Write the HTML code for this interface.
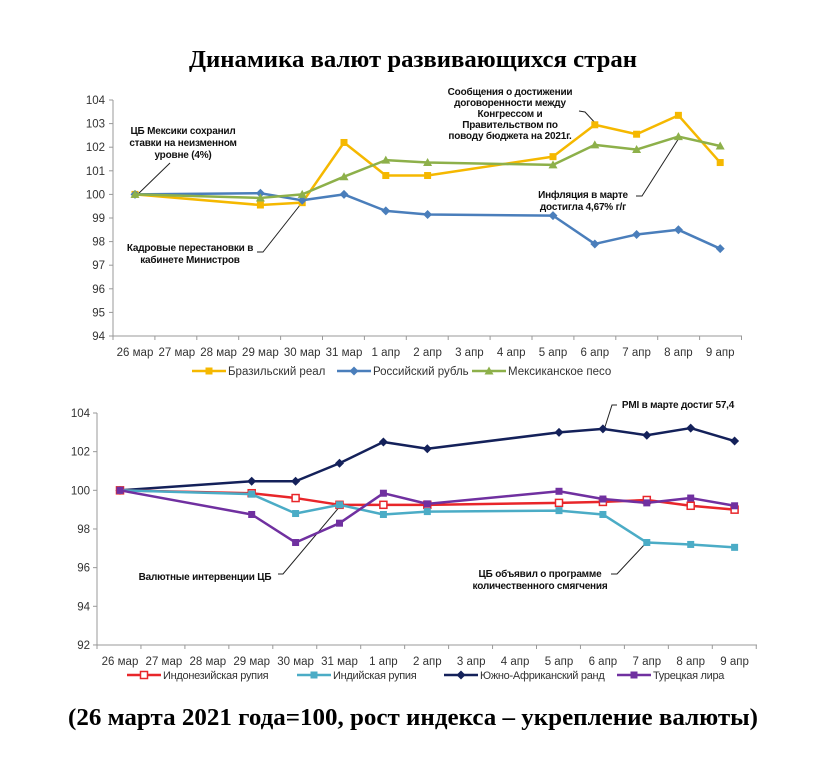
<!DOCTYPE html>
<html><head><meta charset="utf-8"><style>
body{margin:0;background:#fff;}
svg{display:block;font-family:"Liberation Sans",sans-serif;}
.t{font-family:"Liberation Serif",serif;font-weight:bold;font-size:24px;}
.tk{font-size:11.5px;fill:#333;}
.an{font-size:10px;font-weight:bold;fill:#111;letter-spacing:-0.2px;}
.lg{font-size:11.5px;fill:#333;}
.lg2{font-size:11px;fill:#333;letter-spacing:-0.3px;}
</style></head><body>
<svg id="s" width="828" height="757" viewBox="0 0 828 757">
<text class="t" x="413" y="67" text-anchor="middle" textLength="448" lengthAdjust="spacingAndGlyphs">Динамика валют развивающихся стран</text>
<text class="t" x="413" y="725" text-anchor="middle" textLength="690" lengthAdjust="spacingAndGlyphs">(26 марта 2021 года=100, рост индекса – укрепление валюты)</text>
<g class="tk" text-anchor="end">
<text x="105" y="104">104</text><text x="105" y="127.6">103</text><text x="105" y="151.2">102</text><text x="105" y="174.8">101</text><text x="105" y="198.4">100</text><text x="105" y="222">99</text><text x="105" y="245.6">98</text><text x="105" y="269.2">97</text><text x="105" y="292.8">96</text><text x="105" y="316.4">95</text><text x="105" y="340">94</text>
<text x="90" y="417">104</text><text x="90" y="455.7">102</text><text x="90" y="494.3">100</text><text x="90" y="533">98</text><text x="90" y="571.6">96</text><text x="90" y="610.3">94</text><text x="90" y="649">92</text>
</g>
<g class="tk" text-anchor="middle">
<text x="135" y="356">26 мар</text><text x="176.8" y="356">27 мар</text><text x="218.6" y="356">28 мар</text><text x="260.4" y="356">29 мар</text><text x="302.2" y="356">30 мар</text><text x="344" y="356">31 мар</text><text x="385.8" y="356">1 апр</text><text x="427.6" y="356">2 апр</text><text x="469.4" y="356">3 апр</text><text x="511.2" y="356">4 апр</text><text x="553" y="356">5 апр</text><text x="594.8" y="356">6 апр</text><text x="636.6" y="356">7 апр</text><text x="678.4" y="356">8 апр</text><text x="720.2" y="356">9 апр</text>
<text x="120" y="665">26 мар</text><text x="163.9" y="665">27 мар</text><text x="207.8" y="665">28 мар</text><text x="251.7" y="665">29 мар</text><text x="295.6" y="665">30 мар</text><text x="339.5" y="665">31 мар</text><text x="383.4" y="665">1 апр</text><text x="427.3" y="665">2 апр</text><text x="471.2" y="665">3 апр</text><text x="515.1" y="665">4 апр</text><text x="559" y="665">5 апр</text><text x="602.9" y="665">6 апр</text><text x="646.8" y="665">7 апр</text><text x="690.7" y="665">8 апр</text><text x="734.6" y="665">9 апр</text>
</g>
<g class="lg">
<text x="228" y="375">Бразильский реал</text>
<text x="373" y="375">Российский рубль</text>
<text x="508" y="375">Мексиканское песо</text>
</g>
<g class="lg2">
<text x="163" y="679">Индонезийская рупия</text>
<text x="333" y="679">Индийская рупия</text>
<text x="480" y="679">Южно-Африканский ранд</text>
<text x="653" y="679">Турецкая лира</text>
</g>
<g class="an" text-anchor="middle">
<text x="183" y="134">ЦБ Мексики сохранил</text>
<text x="183" y="146">ставки на неизменном</text>
<text x="183" y="158">уровне (4%)</text>
<text x="190" y="251">Кадровые перестановки в</text>
<text x="190" y="263">кабинете Министров</text>
<text x="510" y="95">Сообщения о достижении</text>
<text x="510" y="106">договоренности между</text>
<text x="510" y="117">Конгрессом и</text>
<text x="510" y="128">Правительством по</text>
<text x="510" y="139">поводу бюджета на 2021г.</text>
<text x="583" y="198">Инфляция в марте</text>
<text x="583" y="210">достигла 4,67% г/г</text>
<text x="678" y="408">PMI в марте достиг 57,4</text>
<text x="205" y="580">Валютные интервенции ЦБ</text>
<text x="540" y="577">ЦБ объявил о программе</text>
<text x="540" y="589">количественного смягчения</text>
</g>
<g stroke="#222" stroke-width="1" fill="none">
<polyline points="170,163 136,196"/>
<polyline points="257,252 263,252 304,200"/>
<polyline points="579,111 585,112 597,125"/>
<polyline points="636,196 642,196 679,138"/>
<polyline points="617,405 612,405 604,430"/>
<polyline points="278,574 283,574 341,505"/>
<polyline points="611,574 617,574 645,544"/>
</g>
<g id="g"></g>
</svg>
<script>
var NS="http://www.w3.org/2000/svg",G=document.getElementById("g");
function el(n,a){var e=document.createElementNS(NS,n);for(var k in a)e.setAttribute(k,a[k]);G.appendChild(e);return e;}
el("line",{x1:113,y1:100,x2:113,y2:336,stroke:"#999"});
el("line",{x1:113,y1:336,x2:742,y2:336,stroke:"#999"});
for(var i=0;i<=10;i++)el("line",{x1:109,y1:100+i*23.6,x2:113,y2:100+i*23.6,stroke:"#999"});
for(var k=0;k<=15;k++)el("line",{x1:113+41.9*k,y1:336,x2:113+41.9*k,y2:340,stroke:"#999"});
el("line",{x1:97,y1:413,x2:97,y2:645,stroke:"#999"});
el("line",{x1:97,y1:645,x2:757,y2:645,stroke:"#999"});
for(var i=0;i<=6;i++)el("line",{x1:93,y1:413+i*38.66,x2:97,y2:413+i*38.66,stroke:"#999"});
for(var k=0;k<=15;k++)el("line",{x1:97+43.95*k,y1:645,x2:97+43.95*k,y2:649,stroke:"#999"});
var idx=[0,3,4,5,6,7,10,11,12,13,14];
function mk(x,y,t,c,s){
 if(t=="sq")el("rect",{x:x-s,y:y-s,width:2*s,height:2*s,fill:c});
 else if(t=="hs")el("rect",{x:x-s,y:y-s,width:2*s,height:2*s,fill:"#fff",stroke:c,"stroke-width":1.5});
 else if(t=="di")el("polygon",{points:(x)+","+(y-s-1)+" "+(x+s+1)+","+y+" "+x+","+(y+s+1)+" "+(x-s-1)+","+y,fill:c});
 else el("polygon",{points:x+","+(y-s-1)+" "+(x+s+1)+","+(y+s)+" "+(x-s-1)+","+(y+s),fill:c});
}
function series(v,cx,cy,c,t){
 var p=v.map(function(d,i){return [cx(idx[i]),cy(d)];});
 el("polyline",{points:p.map(function(q){return q.join(",")}).join(" "),fill:"none",stroke:c,"stroke-width":2.5,"stroke-linejoin":"round"});
 p.forEach(function(q){mk(q[0],q[1],t,c,3.5);});
}
var tx=function(k){return 135+41.8*k},ty=function(v){return 100+(104-v)*23.6};
var bx=function(k){return 120+43.9*k},by=function(v){return 413+(104-v)*19.33};
series([100,99.55,99.65,102.2,100.8,100.8,101.6,102.95,102.55,103.35,101.35],tx,ty,"#f5b800","sq");
series([100,100.05,99.75,100,99.3,99.15,99.1,97.9,98.3,98.5,97.7],tx,ty,"#4a7ebb","di");
series([100,99.85,100,100.75,101.45,101.35,101.25,102.1,101.9,102.45,102.05],tx,ty,"#8db04a","tr");
series([100,100.47,100.47,101.4,102.5,102.15,103,103.18,102.85,103.22,102.55],bx,by,"#14215a","di");
series([100,99.85,99.6,99.25,99.25,99.25,99.35,99.4,99.5,99.2,99.0],bx,by,"#e8262a","hs");
series([100,99.8,98.8,99.25,98.75,98.9,98.95,98.75,97.3,97.2,97.05],bx,by,"#4bacc6","sq");
series([100,98.75,97.3,98.3,99.85,99.3,99.95,99.55,99.35,99.6,99.2],bx,by,"#7030a0","sq");
function leg(x,y,c,t){el("line",{x1:x,y1:y,x2:x+34,y2:y,stroke:c,"stroke-width":2.5});mk(x+17,y,t,c,3.5);}
leg(192,371,"#f5b800","sq");leg(337,371,"#4a7ebb","di");leg(472,371,"#8db04a","tr");
leg(127,675,"#e8262a","hs");leg(297,675,"#4bacc6","sq");leg(444,675,"#14215a","di");leg(617,675,"#7030a0","sq");
</script>
</body></html>
